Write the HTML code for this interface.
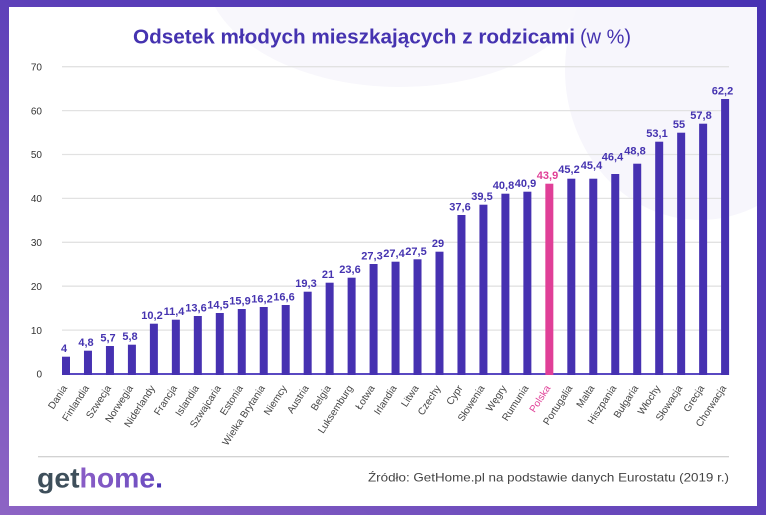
<!DOCTYPE html>
<html><head><meta charset="utf-8"><style>
html,body{margin:0;padding:0;width:766px;height:515px;overflow:hidden;background:#fff}
svg{display:block}
.yl{font-family:"Liberation Sans",sans-serif;font-size:10px;fill:#333;text-anchor:end}
.vl{font-family:"Liberation Sans",sans-serif;font-size:11px;font-weight:bold;fill:#4533b0;text-anchor:middle}
.xl{font-family:"Liberation Sans","Noto Sans CJK SC",sans-serif;font-size:10px;fill:#444;text-anchor:end}
</style></head><body>
<svg width="766" height="515" viewBox="0 0 766 515" xmlns="http://www.w3.org/2000/svg">
<defs>
<linearGradient id="bg" x1="0" y1="1" x2="1" y2="0">
<stop offset="0" stop-color="#8d64c4"/><stop offset="0.55" stop-color="#5a3eb8"/><stop offset="1" stop-color="#4832b3"/>
</linearGradient>
<linearGradient id="lg" x1="0" y1="0" x2="1" y2="0">
<stop offset="0" stop-color="#9a66c9"/><stop offset="1" stop-color="#6a4cc0"/>
</linearGradient>
<clipPath id="card"><rect x="9" y="7" width="748" height="499"/></clipPath>
</defs>
<rect width="766" height="515" fill="url(#bg)"/>
<rect x="9" y="7" width="748" height="499" fill="#fff"/>
<g clip-path="url(#card)">
<ellipse cx="400" cy="-30" rx="195" ry="117" fill="#f8f7fc"/>
<ellipse cx="700" cy="70" rx="135" ry="150" fill="#f7f6fc"/>
</g>
<!-- title -->
<text x="133" y="43.3" font-family="Liberation Sans, sans-serif" font-size="20.5" font-weight="bold" fill="#4533b0" textLength="442" lengthAdjust="spacingAndGlyphs">Odsetek młodych mieszkających z rodzicami</text>
<text x="580" y="43.3" font-family="Liberation Sans, sans-serif" font-size="20.5" fill="#4533b0" textLength="51" lengthAdjust="spacingAndGlyphs">(w %)</text>
<!-- grid -->
<g stroke="#e2e2e2" stroke-width="1.3">
<line x1="62" y1="66.7" x2="729" y2="66.7"/>
<line x1="62" y1="110.6" x2="729" y2="110.6"/>
<line x1="62" y1="154.5" x2="729" y2="154.5"/>
<line x1="62" y1="198.4" x2="729" y2="198.4"/>
<line x1="62" y1="242.3" x2="729" y2="242.3"/>
<line x1="62" y1="286.2" x2="729" y2="286.2"/>
<line x1="62" y1="330.1" x2="729" y2="330.1"/>
</g>
<g class="yl">
<text x="42" y="70.4">70</text>
<text x="42" y="114.3">60</text>
<text x="42" y="158.2">50</text>
<text x="42" y="202.1">40</text>
<text x="42" y="246">30</text>
<text x="42" y="289.9">20</text>
<text x="42" y="333.8">10</text>
<text x="42" y="377.7">0</text>
</g>
<rect x="62" y="373" width="667" height="2" fill="#5a49c2"/>
<!-- bars -->
<g fill="#4631b1">
<rect x="62" y="356.7" width="8" height="18.3"/>
<rect x="83.97" y="350.7" width="8" height="24.3"/>
<rect x="105.94" y="346" width="8" height="29"/>
<rect x="127.91" y="344.7" width="8" height="30.3"/>
<rect x="149.88" y="323.7" width="8" height="51.3"/>
<rect x="171.85" y="319.7" width="8" height="55.3"/>
<rect x="193.82" y="316" width="8" height="59"/>
<rect x="215.79" y="313" width="8" height="62"/>
<rect x="237.76" y="309" width="8" height="66"/>
<rect x="259.73" y="307" width="8" height="68"/>
<rect x="281.7" y="305" width="8" height="70"/>
<rect x="303.67" y="291.7" width="8" height="83.3"/>
<rect x="325.64" y="282.7" width="8" height="92.3"/>
<rect x="347.61" y="277.7" width="8" height="97.3"/>
<rect x="369.58" y="264" width="8" height="111"/>
<rect x="391.55" y="261.7" width="8" height="113.3"/>
<rect x="413.52" y="259.3" width="8" height="115.7"/>
<rect x="435.49" y="251.7" width="8" height="123.3"/>
<rect x="457.46" y="215" width="8" height="160"/>
<rect x="479.43" y="204.7" width="8" height="170.3"/>
<rect x="501.4" y="193.7" width="8" height="181.3"/>
<rect x="523.37" y="191.7" width="8" height="183.3"/>
<rect x="567.31" y="178.7" width="8" height="196.3"/>
<rect x="589.28" y="178.7" width="8" height="196.3"/>
<rect x="611.25" y="174" width="8" height="201"/>
<rect x="633.22" y="163.7" width="8" height="211.3"/>
<rect x="655.19" y="141.7" width="8" height="233.3"/>
<rect x="677.16" y="132.7" width="8" height="242.3"/>
<rect x="699.13" y="123.7" width="8" height="251.3"/>
<rect x="721.1" y="99" width="8" height="276"/>
</g>
<rect x="545.34" y="183.7" width="8" height="191.3" fill="#e03f97"/>
<!-- value labels -->
<g class="vl">
<text x="64" y="352.2">4</text>
<text x="86" y="346.2">4,8</text>
<text x="108" y="341.5">5,7</text>
<text x="130" y="340.2">5,8</text>
<text x="152" y="319.2">10,2</text>
<text x="174" y="315.2">11,4</text>
<text x="196" y="311.5">13,6</text>
<text x="218" y="308.5">14,5</text>
<text x="240" y="304.5">15,9</text>
<text x="262" y="302.5">16,2</text>
<text x="284" y="300.5">16,6</text>
<text x="306" y="287.2">19,3</text>
<text x="328" y="278.2">21</text>
<text x="350" y="273.2">23,6</text>
<text x="372" y="259.5">27,3</text>
<text x="394" y="257.2">27,4</text>
<text x="416" y="254.8">27,5</text>
<text x="438" y="247.2">29</text>
<text x="460" y="210.5">37,6</text>
<text x="482" y="200.2">39,5</text>
<text x="503.5" y="189.2">40,8</text>
<text x="525.5" y="187.2">40,9</text>
<text x="547.5" y="179.2" fill="#e03f97">43,9</text>
<text x="569" y="173">45,2</text>
<text x="591.5" y="169">45,4</text>
<text x="612.5" y="160.5">46,4</text>
<text x="635" y="154.5">48,8</text>
<text x="657" y="137.2">53,1</text>
<text x="679" y="128.2">55</text>
<text x="701" y="119.2">57,8</text>
<text x="722.5" y="94.5">62,2</text>
</g>
<!-- x labels -->
<g class="xl">
<text transform="translate(67.5,388) rotate(-57)">Dania</text>
<text transform="translate(89.47,388) rotate(-57)">Finlandia</text>
<text transform="translate(111.44,388) rotate(-57)">Szwecja</text>
<text transform="translate(133.41,388) rotate(-57)">Norwegia</text>
<text transform="translate(155.38,388) rotate(-57)">Niderlandy</text>
<text transform="translate(177.35,388) rotate(-57)">Francja</text>
<text transform="translate(199.32,388) rotate(-57)">Islandia</text>
<text transform="translate(221.29,388) rotate(-57)">Szwajcaria</text>
<text transform="translate(243.26,388) rotate(-57)">Estonia</text>
<text transform="translate(265.23,388) rotate(-57)">Wielka Brytania</text>
<text transform="translate(287.2,388) rotate(-57)">Niemcy</text>
<text transform="translate(309.17,388) rotate(-57)">Austria</text>
<text transform="translate(331.14,388) rotate(-57)">Belgia</text>
<text transform="translate(353.11,388) rotate(-57)">Luksemburg</text>
<text transform="translate(375.08,388) rotate(-57)">Łotwa</text>
<text transform="translate(397.05,388) rotate(-57)">Irlandia</text>
<text transform="translate(419.02,388) rotate(-57)">Litwa</text>
<text transform="translate(440.99,388) rotate(-57)">Czechy</text>
<text transform="translate(462.96,388) rotate(-57)">Cypr</text>
<text transform="translate(484.93,388) rotate(-57)">Słowenia</text>
<text transform="translate(506.9,388) rotate(-57)">Węgry</text>
<text transform="translate(528.87,388) rotate(-57)">Rumunia</text>
<text transform="translate(550.84,388) rotate(-57)" fill="#e03f97">Polska</text>
<text transform="translate(572.81,388) rotate(-57)">Portugalia</text>
<text transform="translate(594.78,388) rotate(-57)">Malta</text>
<text transform="translate(616.75,388) rotate(-57)">Hiszpania</text>
<text transform="translate(638.72,388) rotate(-57)">Bułgaria</text>
<text transform="translate(660.69,388) rotate(-57)">Włochy</text>
<text transform="translate(682.66,388) rotate(-57)">Słowacja</text>
<text transform="translate(704.63,388) rotate(-57)">Grecja</text>
<text transform="translate(726.6,388) rotate(-57)">Chorwacja</text>
</g>
<!-- footer -->
<line x1="38" y1="456.7" x2="729" y2="456.7" stroke="#c4c4c4" stroke-width="1"/>
<text x="37" y="487.4" font-family="Liberation Sans, sans-serif" font-size="28" font-weight="bold" textLength="126" lengthAdjust="spacingAndGlyphs"><tspan fill="#3e4f5b">get</tspan><tspan fill="url(#lg)">home</tspan><tspan fill="#4a35b5">.</tspan></text>
<text x="368" y="481.5" font-family="Liberation Sans, sans-serif" font-size="12" fill="#444" textLength="361" lengthAdjust="spacingAndGlyphs">Źródło: GetHome.pl na podstawie danych Eurostatu (2019 r.)</text>
</svg>
</body></html>
